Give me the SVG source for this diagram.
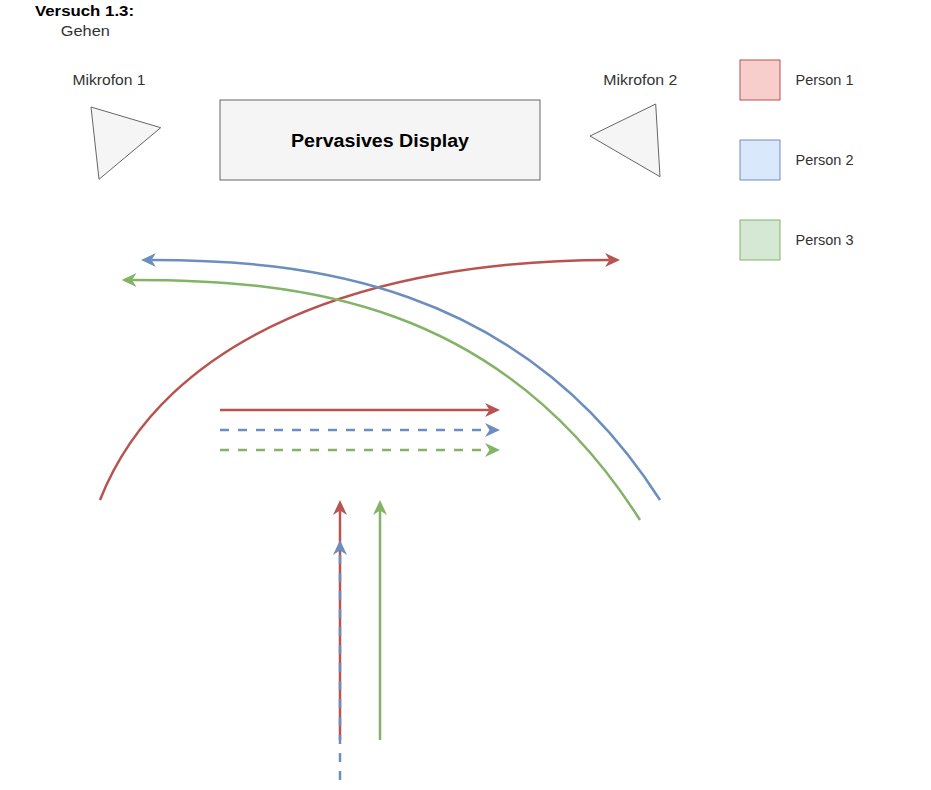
<svg xmlns="http://www.w3.org/2000/svg" width="931" height="790" viewBox="0 0 931 790">
  <defs>
    <marker id="arR" viewBox="-5 -8 16 16" refX="0" refY="0" markerWidth="16" markerHeight="16" markerUnits="userSpaceOnUse" orient="auto">
      <path d="M10.5,0 L-4.5,-7 L0,0 L-4.5,7 Z" fill="#b85450"/>
    </marker>
    <marker id="arB" viewBox="-5 -8 16 16" refX="0" refY="0" markerWidth="16" markerHeight="16" markerUnits="userSpaceOnUse" orient="auto">
      <path d="M10.5,0 L-4.5,-7 L0,0 L-4.5,7 Z" fill="#6c8ebf"/>
    </marker>
    <marker id="arG" viewBox="-5 -8 16 16" refX="0" refY="0" markerWidth="16" markerHeight="16" markerUnits="userSpaceOnUse" orient="auto">
      <path d="M10.5,0 L-4.5,-7 L0,0 L-4.5,7 Z" fill="#82b366"/>
    </marker>
  </defs>
  <style>
    text { font-family: "Liberation Sans", Arial, sans-serif; }
    .lbl { font-size: 14.5px; fill: #333333; }
    .ttl { font-size: 14.5px; font-weight: bold; fill: #000000; }
    .big { font-size: 17.5px; font-weight: bold; fill: #000000; }
    .shape { fill: #f5f5f5; stroke: #666666; stroke-width: 1; }
    .r { stroke: #b85450; stroke-width: 2.5; fill: none; }
    .b { stroke: #6c8ebf; stroke-width: 2.5; fill: none; }
    .g { stroke: #82b366; stroke-width: 2.5; fill: none; }
    .dash { stroke-dasharray: 9 9; }
  </style>
  <rect width="931" height="790" fill="#ffffff"/>

  <g id="title">
    <text class="ttl" x="84.5" y="16" text-anchor="middle" textLength="99" lengthAdjust="spacingAndGlyphs">Versuch 1.3:</text>
    <text class="lbl" x="85.3" y="36" text-anchor="middle" textLength="49" lengthAdjust="spacingAndGlyphs">Gehen</text>
  </g>

  <g id="mic1">
    <text class="lbl" x="109" y="85" text-anchor="middle" textLength="73" lengthAdjust="spacingAndGlyphs">Mikrofon 1</text>
    <polygon class="shape" points="91,107 160.7,127.7 99,179.3"/>
  </g>

  <g id="mic2">
    <text class="lbl" x="640.3" y="85" text-anchor="middle" textLength="74" lengthAdjust="spacingAndGlyphs">Mikrofon 2</text>
    <polygon class="shape" points="590,136 655.7,104 660,176.7"/>
  </g>

  <g id="display">
    <rect class="shape" x="220" y="100" width="320" height="80"/>
    <text class="big" x="380" y="147" text-anchor="middle" textLength="178" lengthAdjust="spacingAndGlyphs">Pervasives Display</text>
  </g>

  <g id="legend-person1">
    <rect x="740" y="60" width="40" height="40" fill="#f8cecc" stroke="#b85450"/>
    <text class="lbl" x="795.5" y="85" textLength="58" lengthAdjust="spacingAndGlyphs">Person 1</text>
  </g>
  <g id="legend-person2">
    <rect x="740" y="140" width="40" height="40" fill="#dae8fc" stroke="#6c8ebf"/>
    <text class="lbl" x="795.5" y="165" textLength="58" lengthAdjust="spacingAndGlyphs">Person 2</text>
  </g>
  <g id="legend-person3">
    <rect x="740" y="220" width="40" height="40" fill="#d5e8d4" stroke="#82b366"/>
    <text class="lbl" x="795.5" y="245" textLength="58" lengthAdjust="spacingAndGlyphs">Person 3</text>
  </g>

  <g id="connectors">
    <!-- curved paths -->
    <path class="r" d="M100,500 C165,335 370,260 609.5,260" marker-end="url(#arR)"/>
    <path class="b" d="M660,500 C520,280 300,260 151.5,260" marker-end="url(#arB)"/>
    <path class="g" d="M640,520 C500,300 300,280 132,280" marker-end="url(#arG)"/>
    <!-- horizontal paths -->
    <path class="r" d="M220,410 L489.5,410" marker-end="url(#arR)"/>
    <path class="b dash" d="M220,430 L489.5,430" marker-end="url(#arB)"/>
    <path class="g dash" d="M220,450 L489.5,450" marker-end="url(#arG)"/>
    <!-- vertical paths -->
    <path class="r" d="M340,740 L340,510.5" marker-end="url(#arR)"/>
    <path class="b dash" d="M340,780 L340,550.5" marker-end="url(#arB)"/>
    <path class="g" d="M380,740 L380,510.5" marker-end="url(#arG)"/>
  </g>
</svg>
